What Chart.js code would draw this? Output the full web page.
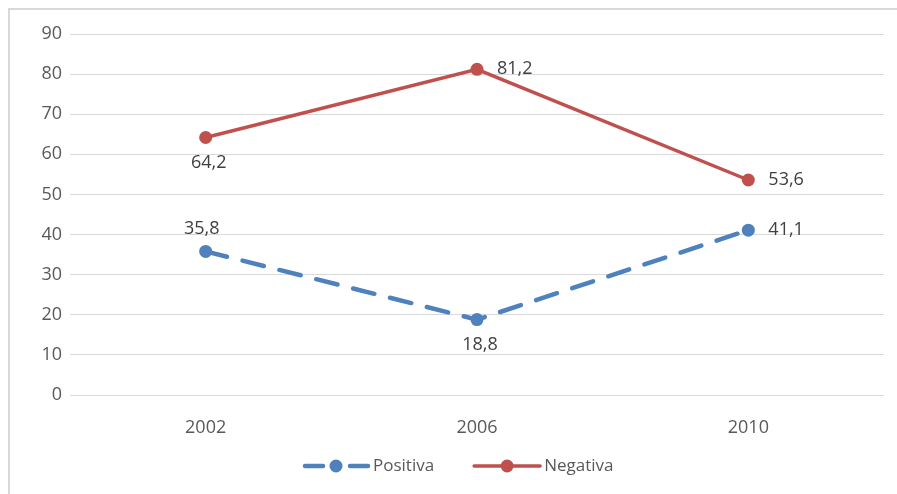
<!DOCTYPE html>
<html>
<head>
<meta charset="utf-8">
<script src="https://cdn.jsdelivr.net/npm/chart.js@4"></script>
<style>
  html, body { margin: 0; padding: 0; background: #fff; overflow: hidden; }
  .frame {
    position: absolute; left: 8px; top: 8px; width: 920px; height: 520px;
    border-left: 2px solid #d9d9d9; border-top: 2px solid #d9d9d9;
  }
  .wrap { position: absolute; left: 0; top: 0; width: 897px; height: 494px; }
</style>
</head>
<body>
<div class="frame"></div>
<div class="wrap"><canvas id="chart"></canvas></div>
<script>
// ── Data ──
const years = ['2002', '2006', '2010'];
const positiva = [35.8, 18.8, 41.1];
const negativa = [64.2, 81.2, 53.6];
// where each value label sits relative to its point
const posLabelPos = ['above', 'below', 'right'];
const negLabelPos = ['below', 'right', 'right'];

const FONT = '"Open Sans", sans-serif';
const BLUE = '#4f81bd';
const RED = '#c0504d';

// ── Value labels ──
const valueLabels = {
  id: 'valueLabels',
  afterDatasetsDraw(chart) {
    const ctx = chart.ctx;
    ctx.save();
    ctx.font = '18px ' + FONT;
    ctx.fillStyle = '#404040';
    ctx.textBaseline = 'middle';
    chart.data.datasets.forEach((ds, di) => {
      const meta = chart.getDatasetMeta(di);
      meta.data.forEach((pt, i) => {
        const txt = ds.data[i].toFixed(1).replace('.', ',');
        const where = ds.labelPos[i];
        let x = pt.x, y = pt.y;
        if (where === 'right') { ctx.textAlign = 'left'; x += 20; }
        else if (where === 'above') { ctx.textAlign = 'center'; x -= 4; y -= 23; }
        else { ctx.textAlign = 'center'; x += 3; y += 25; }
        ctx.fillText(txt, x, y);
      });
    });
    ctx.restore();
  }
};

// ── Legend (line + marker like the original) ──
const lineLegend = {
  id: 'lineLegend',
  afterDraw(chart) {
    const ctx = chart.ctx;
    const y = 466;
    let x = 303;
    ctx.save();
    ctx.font = '17px ' + FONT;
    ctx.textBaseline = 'middle';
    ctx.textAlign = 'left';
    chart.data.datasets.forEach(ds => {
      ctx.strokeStyle = ds.borderColor;
      ctx.lineWidth = ds.borderWidth;
      ctx.lineCap = 'round';
      ctx.beginPath();
      if (ds.borderDash && ds.borderDash.length) {
        ctx.moveTo(x + 2, y); ctx.lineTo(x + 20, y);
        ctx.moveTo(x + 47, y); ctx.lineTo(x + 65, y);
      } else {
        ctx.moveTo(x, y); ctx.lineTo(x + 66, y);
      }
      ctx.stroke();
      ctx.fillStyle = ds.backgroundColor;
      ctx.beginPath();
      ctx.arc(x + 33, y, 6.5, 0, Math.PI * 2);
      ctx.fill();
      ctx.fillStyle = '#595959';
      ctx.fillText(ds.label, x + 70, y);
      x += 70 + ctx.measureText(ds.label).width + 40;
    });
    ctx.restore();
  }
};

new Chart(document.getElementById('chart').getContext('2d'), {
  type: 'line',
  data: {
    labels: years,
    datasets: [
      {
        label: 'Positiva',
        data: positiva,
        labelPos: posLabelPos,
        borderColor: BLUE,
        backgroundColor: BLUE,
        borderWidth: 4.5,
        borderDash: [22, 16],
        borderCapStyle: 'round',
        pointRadius: 6.5,
        pointBorderWidth: 0,
        tension: 0
      },
      {
        label: 'Negativa',
        data: negativa,
        labelPos: negLabelPos,
        borderColor: RED,
        backgroundColor: RED,
        borderWidth: 3.5,
        borderCapStyle: 'round',
        pointRadius: 6.5,
        pointBorderWidth: 0,
        tension: 0
      }
    ]
  },
  options: {
    responsive: true, maintainAspectRatio: false,
    animation: false,
    layout: { padding: { top: 34, right: 13, left: 0, bottom: 0 } },
    plugins: {
      legend: { display: false },
      tooltip: { enabled: false }
    },
    scales: {
      x: {
        offset: true,
        grid: { display: false },
        border: { display: false },
        ticks: { color: '#595959', font: { family: FONT, size: 18 }, padding: 14 },
        afterFit: s => { s.height = 99; }
      },
      y: {
        min: 0, max: 90,
        ticks: { stepSize: 10, color: '#595959', font: { family: FONT, size: 18 }, padding: 8 },
        grid: { color: '#d9d9d9', lineWidth: 1, drawTicks: false },
        border: { display: false },
        afterFit: s => { s.width = 70; }
      }
    }
  },
  plugins: [valueLabels, lineLegend]
});
</script>
</body>
</html>
